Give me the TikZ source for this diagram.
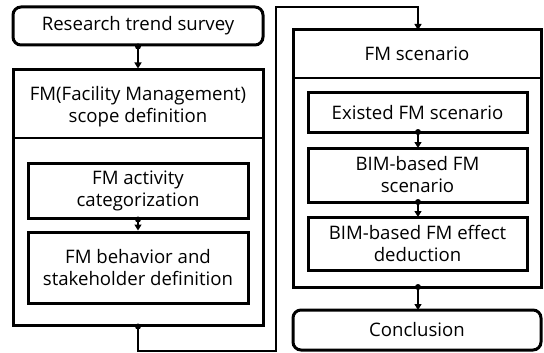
\documentclass[tikz,border=0pt]{standalone}
\usepackage{fontspec}
\setmainfont{Open Sans}
\usetikzlibrary{arrows.meta}
\begin{document}
\begin{tikzpicture}[x=1pt,y=-1pt,
  box/.style={draw,line width=3pt,minimum width=#1,inner sep=0pt},
  rbox/.style={draw,line width=3pt,rounded corners=8pt,inner sep=0pt},
  txt/.style={font=\fontsize{18.6}{22}\selectfont,align=center,inner sep=0pt},
  conn/.style={line width=1.4pt,-{Triangle[width=7pt,length=6pt]}},
  dot/.style={circle,fill,inner sep=0pt,minimum size=6pt}]
\useasboundingbox (0,0) rectangle (544,353);
% left column
\node[rbox,minimum width=250pt,minimum height=38pt] (rts) at (138,26) {};
\node[txt] at (rts.center) {Research trend survey};
\node[box=250pt,minimum height=255pt] (scope) at (138,197.5) {};
\draw[line width=1.4pt] (13,138) -- (263,138);
\node[txt] (scopeh) at (138,106.5) {FM(Facility Management)\\scope definition};
\node[box=220pt,minimum height=55pt] (act) at (138,190.5) {};
\node[txt] at (act.center) {FM activity\\categorization};
\node[box=220pt,minimum height=71pt] (beh) at (138,267.5) {};
\node[txt] at (beh.center) {FM behavior and\\stakeholder definition};
% right column
\node[box=248pt,minimum height=257pt] (scen) at (417,158.5) {};
\draw[line width=1.4pt] (293,78) -- (541,78);
\node[txt] (scenh) at (417,54) {FM scenario};
\node[box=219pt,minimum height=39pt] (ex) at (417.5,112.5) {};
\node[txt] at (ex.center) {Existed FM scenario};
\node[box=219pt,minimum height=54pt] (bs) at (417.5,175) {};
\node[txt] at (bs.center) {BIM-based FM\\scenario};
\node[box=219pt,minimum height=53pt] (eff) at (417.5,243.5) {};
\node[txt] at (eff.center) {BIM-based FM effect\\deduction};
\node[rbox,minimum width=248pt,minimum height=40pt] (con) at (417,330) {};
\node[txt] at (con.center) {Conclusion};
% connectors
\coordinate (c1) at (138,351);
\coordinate (c2) at (276,351);
\coordinate (c3) at (276,7);
\coordinate (c4) at (418,7);
\draw[conn] (rts.south) -- (scope.north);
\node[dot] at (rts.south) {};
\draw[conn] (act.south) -- (beh.north);
\node[dot] at (act.south) {};
\draw[conn] (scope.south) -- (c1) -- (c2) -- (c3) -- (c4) -- (418,30);
\node[dot] at (scope.south) {};
\draw[conn] (418,132) -- (418,148);
\node[dot] at (418,132) {};
\draw[conn] (418,202) -- (418,217);
\node[dot] at (418,202) {};
\draw[conn] (418,287) -- (418,310);
\node[dot] at (418,287) {};
\end{tikzpicture}
\end{document}
